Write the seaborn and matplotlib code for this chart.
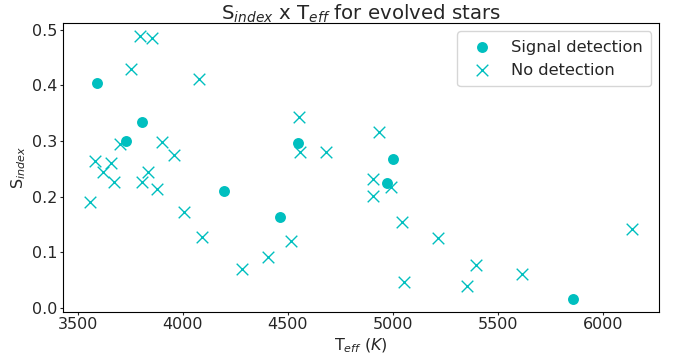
import matplotlib
matplotlib.use('Agg')
import matplotlib.pyplot as plt
import seaborn as sns
import pandas as pd

# stars with a signal detection
det_teff = [3592, 3806, 3731, 4196, 4460, 4549, 5000, 4973, 5853]
det_sindex = [0.404, 0.335, 0.301, 0.211, 0.164, 0.296, 0.267, 0.225, 0.017]

# stars without detection
nodet_teff = [3797, 3852, 3756, 4075, 4551, 4555, 3700, 3903, 3956, 3581,
              3661, 3620, 3672, 3835, 3808, 3876, 3560, 4006, 4093, 4280,
              4405, 4514, 4935, 4680, 4902, 4903, 4988, 5040, 5212, 5394,
              5351, 5052, 5614, 6135]
nodet_sindex = [0.488, 0.485, 0.430, 0.412, 0.343, 0.280, 0.295, 0.299, 0.275, 0.265,
                0.260, 0.245, 0.226, 0.245, 0.227, 0.214, 0.190, 0.172, 0.128, 0.071,
                0.092, 0.121, 0.317, 0.281, 0.231, 0.201, 0.217, 0.154, 0.126, 0.078,
                0.040, 0.046, 0.062, 0.142]

det = pd.DataFrame({'teff': det_teff, 'sindex': det_sindex})
nodet = pd.DataFrame({'teff': nodet_teff, 'sindex': nodet_sindex})

sns.set_style('white')
plt.rcParams['font.family'] = ['DejaVu Sans']
fig, ax = plt.subplots(figsize=(6.79, 3.54), dpi=100)

sns.scatterplot(x='teff', y='sindex', data=det, color='c', marker='o', s=62,
                linewidth=0, label='Signal detection', ax=ax)
sns.scatterplot(x='teff', y='sindex', data=nodet, color='c', marker='x', s=70,
                linewidth=1, label='No detection', ax=ax)

ax.set_xlabel(r'T$_{eff}$ ($K$)', fontsize=11.5, labelpad=3)
ax.set_ylabel(r'S$_{index}$', fontsize=11.5, labelpad=3)
ax.set_title(r'S$_{index}$ x T$_{eff}$ for evolved stars', fontsize=14.2, pad=2.5)
ax.tick_params(labelsize=11.5, direction='out', length=2.5, width=0.8, pad=1.5,
               bottom=True, left=True)
for sp in ax.spines.values():
    sp.set_color('black')
    sp.set_linewidth(0.8)

ax.legend(loc='upper right', fontsize=11.7, borderpad=0.5)

fig.subplots_adjust(left=0.093, right=0.9705, top=0.934, bottom=0.1195)
plt.savefig('out.png', dpi=100)
